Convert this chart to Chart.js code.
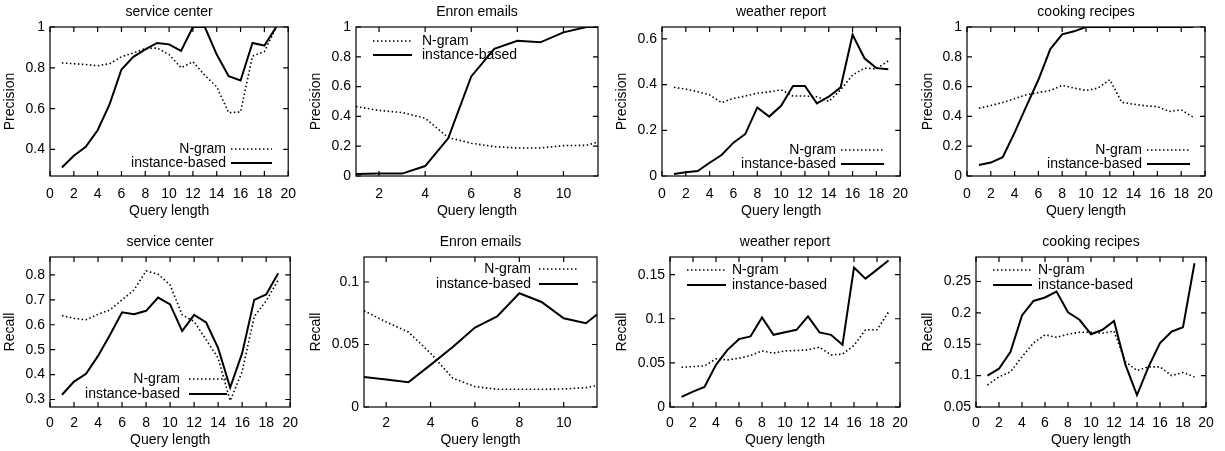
<!DOCTYPE html>
<html>
<head>
<meta charset="utf-8">
<script src="https://cdn.jsdelivr.net/npm/chart.js@4/dist/chart.umd.min.js"></script>
<style>
  body { margin: 0; background: #fff; width: 1225px; height: 451px; position: relative; overflow: hidden; }
  .panel { position: absolute; }
</style>
</head>
<body>
<script>
// query lengths on the x axis
const queryLen = [1, 2, 3, 4, 5, 6, 7, 8, 9, 10, 11, 12, 13, 14, 15, 16, 17, 18, 19];
const enronLen = [1, 2, 3, 4, 5, 6, 7, 8, 9, 10, 11, 12];

// precision
const scPrecNgram = [0.824, 0.82, 0.816, 0.81, 0.82, 0.854, 0.873, 0.894, 0.897, 0.865, 0.80, 0.83, 0.763, 0.707, 0.58, 0.584, 0.857, 0.88, 1.0];
const scPrecInst = [0.312, 0.369, 0.413, 0.494, 0.621, 0.792, 0.854, 0.89, 0.922, 0.915, 0.883, 1.0, 1.0, 0.865, 0.759, 0.738, 0.922, 0.909, 1.0];
const enPrecNgram = [0.466, 0.44, 0.426, 0.388, 0.258, 0.22, 0.197, 0.188, 0.188, 0.204, 0.206, 0.25];
const enPrecInst = [0.013, 0.016, 0.016, 0.067, 0.253, 0.668, 0.854, 0.908, 0.897, 0.964, 1.0, 1.0];
const wrPrecNgram = [0.388, 0.38, 0.369, 0.355, 0.321, 0.34, 0.35, 0.362, 0.368, 0.377, 0.35, 0.35, 0.347, 0.326, 0.377, 0.442, 0.472, 0.469, 0.504];
const wrPrecInst = [0.009, 0.016, 0.022, 0.058, 0.092, 0.146, 0.184, 0.30, 0.26, 0.307, 0.394, 0.394, 0.318, 0.347, 0.388, 0.618, 0.515, 0.472, 0.467];
const crPrecNgram = [0.455, 0.473, 0.493, 0.518, 0.545, 0.56, 0.574, 0.608, 0.59, 0.574, 0.59, 0.646, 0.495, 0.482, 0.471, 0.466, 0.433, 0.444, 0.395];
const crPrecInst = [0.074, 0.09, 0.126, 0.291, 0.471, 0.646, 0.852, 0.951, 0.971, 1, 1, 1, 1, 1, 1, 1, 1, 1, 1];

// recall
const scRecNgram = [0.637, 0.626, 0.62, 0.642, 0.66, 0.70, 0.74, 0.816, 0.803, 0.76, 0.64, 0.613, 0.54, 0.466, 0.295, 0.412, 0.633, 0.696, 0.78];
const scRecInst = [0.319, 0.372, 0.403, 0.475, 0.56, 0.65, 0.642, 0.656, 0.709, 0.682, 0.575, 0.64, 0.609, 0.506, 0.348, 0.486, 0.70, 0.722, 0.807];
const enRecNgram = [0.077, 0.068, 0.060, 0.043, 0.023, 0.0163, 0.0142, 0.0142, 0.0142, 0.0144, 0.0155, 0.0185];
const enRecInst = [0.024, 0.022, 0.0198, 0.0337, 0.048, 0.0636, 0.0725, 0.091, 0.084, 0.071, 0.067, 0.081];
const wrRecNgram = [0.045, 0.0458, 0.0466, 0.0545, 0.0534, 0.0553, 0.0583, 0.0636, 0.061, 0.0636, 0.064, 0.0648, 0.0678, 0.059, 0.06, 0.0697, 0.0875, 0.0875, 0.1076];
const wrRecInst = [0.0114, 0.0174, 0.0227, 0.0477, 0.0648, 0.0769, 0.08, 0.1015, 0.0818, 0.0848, 0.0875, 0.1026, 0.0845, 0.0818, 0.0705, 0.158, 0.1455, 0.1557, 0.166];
const crRecNgram = [0.085, 0.098, 0.106, 0.13, 0.152, 0.165, 0.161, 0.166, 0.169, 0.169, 0.1675, 0.171, 0.122, 0.108, 0.114, 0.114, 0.1, 0.105, 0.098];
const crRecInst = [0.1, 0.111, 0.138, 0.196, 0.219, 0.2245, 0.234, 0.201, 0.189, 0.166, 0.173, 0.187, 0.117, 0.069, 0.114, 0.152, 0.17, 0.177, 0.279];

// tick labels
const xTicks20 = [0, 2, 4, 6, 8, 10, 12, 14, 16, 18, 20];
const xTicksEnron = [2, 4, 6, 8, 10];
const scPrecTicks = [0.4, 0.6, 0.8, 1];
const precTicks = [0, 0.2, 0.4, 0.6, 0.8, 1];
const wrPrecTicks = [0, 0.2, 0.4, 0.6];
const scRecTicks = [0.3, 0.4, 0.5, 0.6, 0.7, 0.8];
const enRecTicks = [0, 0.05, 0.1];
const wrRecTicks = [0, 0.05, 0.1, 0.15];
const crRecTicks = [0.05, 0.1, 0.15, 0.2, 0.25];

const FONT = "'Liberation Sans', Arial, Helvetica, sans-serif";

// box: [left, top, width, height, plotLeft, plotRight, plotTop, plotBottom]
const panels = [
  { title: "service center", yLabel: "Precision", xs: queryLen, ngram: scPrecNgram, inst: scPrecInst,
    x: [0, 20, xTicks20], y: [0.27, 1, scPrecTicks], box: [0, 0, 306, 225, 50, 292, 27, 176],
    key: { side: "right", x: 226, y: 149, dy: 14, s0: 231, s1: 272 } },
  { title: "Enron emails", yLabel: "Precision", xs: enronLen, ngram: enPrecNgram, inst: enPrecInst,
    x: [1, 11.5, xTicksEnron], y: [0, 1, precTicks], box: [306, 0, 306, 225, 50, 292, 27, 176],
    key: { side: "left", x: 116, y: 41, dy: 14, s0: 67, s1: 106 } },
  { title: "weather report", yLabel: "Precision", xs: queryLen, ngram: wrPrecNgram, inst: wrPrecInst,
    x: [0, 20, xTicks20], y: [0, 0.652, wrPrecTicks], box: [612, 0, 306, 225, 50, 292, 27, 176],
    key: { side: "right", x: 224, y: 150, dy: 14, s0: 229, s1: 272 } },
  { title: "cooking recipes", yLabel: "Precision", xs: queryLen, ngram: crPrecNgram, inst: crPrecInst,
    x: [0, 20, xTicks20], y: [0, 1, precTicks], box: [918, 0, 307, 225, 49, 287, 27, 176],
    key: { side: "right", x: 224, y: 150, dy: 14, s0: 229, s1: 272 } },
  { title: "service center", yLabel: "Recall", xs: queryLen, ngram: scRecNgram, inst: scRecInst,
    x: [0, 20, xTicks20], y: [0.27, 0.872, scRecTicks], box: [0, 225, 306, 226, 50, 292, 32, 182],
    key: { side: "right", x: 180, y: 154, dy: 15, s0: 189, s1: 227 } },
  { title: "Enron emails", yLabel: "Recall", xs: enronLen, ngram: enRecNgram, inst: enRecInst,
    x: [1, 11.5, xTicksEnron], y: [0, 0.12, enRecTicks], box: [306, 225, 306, 226, 58, 291, 32, 182],
    key: { side: "right", x: 225, y: 44, dy: 15, s0: 233, s1: 272 } },
  { title: "weather report", yLabel: "Recall", xs: queryLen, ngram: wrRecNgram, inst: wrRecInst,
    x: [0, 20, xTicks20], y: [0, 0.17, wrRecTicks], box: [612, 225, 306, 226, 58, 288, 32, 182],
    key: { side: "left", x: 120, y: 45, dy: 15, s0: 75, s1: 114 } },
  { title: "cooking recipes", yLabel: "Recall", xs: queryLen, ngram: crRecNgram, inst: crRecInst,
    x: [0, 20, xTicks20], y: [0.05, 0.289, crRecTicks], box: [918, 225, 307, 226, 58, 288, 32, 182],
    key: { side: "left", x: 120, y: 45, dy: 15, s0: 75, s1: 114 } },
];

const NGRAM_DASH = [1.5, 2.5];

// gnuplot-like frame with inward ticks on all four sides
const framePlugin = {
  id: "gnuFrame",
  afterDatasetsDraw(chart) {
    const { ctx, chartArea: a, scales } = chart;
    ctx.save();
    ctx.strokeStyle = "#000";
    ctx.lineWidth = 1.2;
    ctx.beginPath();
    for (const t of scales.x.ticks) {
      const px = scales.x.getPixelForValue(t.value);
      ctx.moveTo(px, a.bottom); ctx.lineTo(px, a.bottom - 5);
      ctx.moveTo(px, a.top); ctx.lineTo(px, a.top + 5);
    }
    for (const t of scales.y.ticks) {
      const py = scales.y.getPixelForValue(t.value);
      ctx.moveTo(a.left, py); ctx.lineTo(a.left + 5, py);
      ctx.moveTo(a.right, py); ctx.lineTo(a.right - 5, py);
    }
    ctx.stroke();
    ctx.strokeRect(a.left, a.top, a.right - a.left, a.bottom - a.top);
    ctx.restore();
  },
};

// key: text and line sample, like gnuplot
const keyPlugin = {
  id: "gnuKey",
  afterDatasetsDraw(chart, args, opts) {
    const ctx = chart.ctx;
    ctx.save();
    ctx.font = "14px " + FONT;
    ctx.fillStyle = "#000";
    ctx.strokeStyle = "#000";
    ctx.textBaseline = "middle";
    chart.data.datasets.forEach((ds, i) => {
      const y = opts.y + i * opts.dy;
      ctx.textAlign = opts.side === "right" ? "right" : "left";
      ctx.fillText(ds.label, opts.x, y);
      ctx.lineWidth = ds.borderWidth;
      ctx.setLineDash(ds.borderDash || []);
      ctx.beginPath();
      ctx.moveTo(opts.s0, y);
      ctx.lineTo(opts.s1, y);
      ctx.stroke();
    });
    ctx.restore();
  },
};

function makePanel(p) {
  const [left, top, W, H, L, R, T, B] = p.box;
  const div = document.createElement("div");
  div.className = "panel";
  div.style.left = left + "px";
  div.style.top = top + "px";
  const canvas = document.createElement("canvas");
  canvas.width = W;
  canvas.height = H;
  canvas.style.width = W + "px";
  canvas.style.height = H + "px";
  div.appendChild(canvas);
  document.body.appendChild(div);

  const topRow = top === 0;
  const titleCenter = topRow ? 12 : 17;
  const xTitleFromBottom = topRow ? 14 : 11;
  const font = { family: FONT, size: 14, weight: "normal" };

  new Chart(canvas, {
    type: "line",
    data: {
      datasets: [
        {
          label: "N-gram",
          data: p.xs.map((x, i) => ({ x: x, y: p.ngram[i] })),
          borderColor: "#000",
          borderWidth: 1.6,
          borderDash: NGRAM_DASH,
          pointRadius: 0,
          fill: false,
        },
        {
          label: "instance-based",
          data: p.xs.map((x, i) => ({ x: x, y: p.inst[i] })),
          borderColor: "#000",
          borderWidth: 2,
          pointRadius: 0,
          fill: false,
        },
      ],
    },
    options: {
      responsive: false,
      animation: false,
      events: [],
      layout: { padding: { top: 0, left: 0, bottom: 0, right: W - R } },
      plugins: {
        legend: { display: false },
        tooltip: { enabled: false },
        title: {
          display: true,
          text: p.title,
          fullSize: false,
          color: "#000",
          font: font,
          padding: { top: titleCenter - 8.4, bottom: T - titleCenter - 8.4 },
        },
        gnuKey: p.key,
      },
      scales: {
        x: {
          type: "linear",
          min: p.x[0],
          max: p.x[1],
          afterBuildTicks: (s) => { s.ticks = p.x[2].map((v) => ({ value: v })); },
          afterFit: (s) => { s.height = H - B; },
          grid: { display: false, drawTicks: false },
          border: { display: false },
          ticks: { padding: topRow ? 10 : 8, color: "#000", font: font, maxRotation: 0, autoSkip: false, callback: (v) => String(v) },
          title: { display: true, text: "Query length", color: "#000", font: font, padding: { top: xTitleFromBottom - 8.4, bottom: xTitleFromBottom - 8.4 } },
        },
        y: {
          type: "linear",
          min: p.y[0],
          max: p.y[1],
          afterBuildTicks: (s) => { s.ticks = p.y[2].map((v) => ({ value: v })); },
          afterFit: (s) => { s.width = L; },
          grid: { display: false, drawTicks: false },
          border: { display: false },
          ticks: { padding: 5, color: "#000", font: font, autoSkip: false, callback: (v) => String(v) },
          title: { display: true, text: p.yLabel, color: "#000", font: font, padding: { top: 2, bottom: 2 } },
        },
      },
    },
    plugins: [framePlugin, keyPlugin],
  });
}

panels.forEach(makePanel);
</script>
</body>
</html>
